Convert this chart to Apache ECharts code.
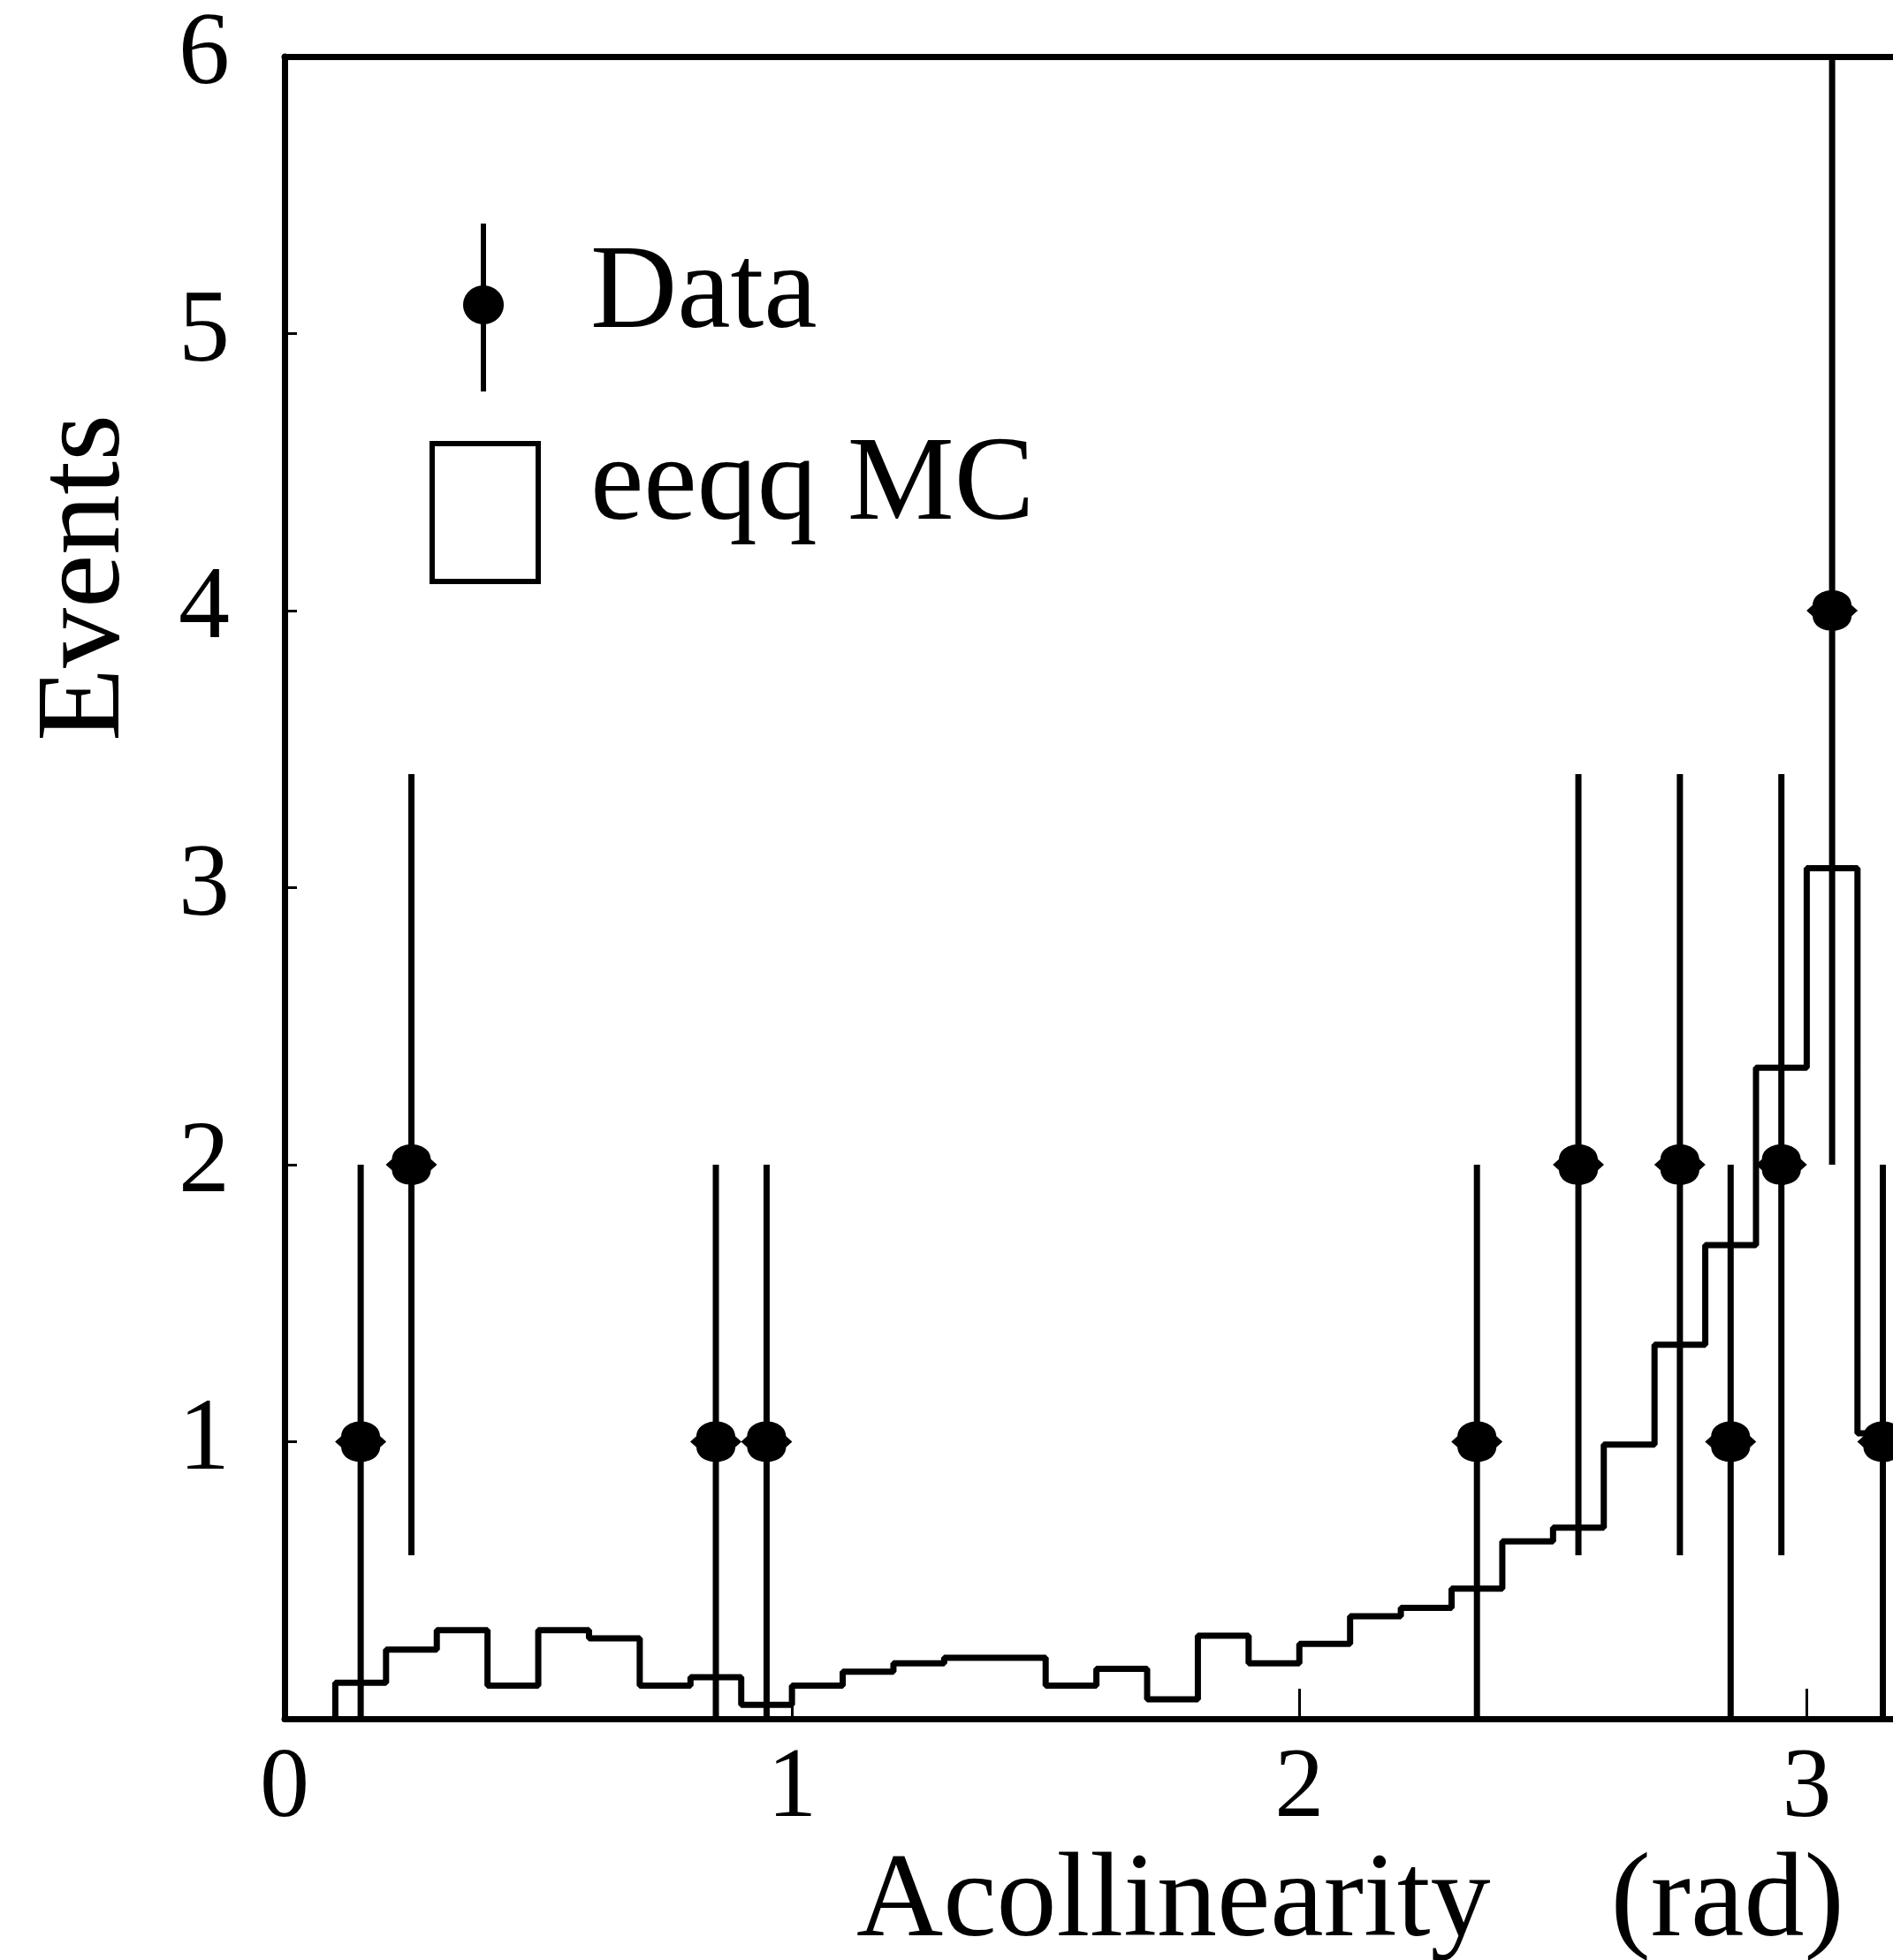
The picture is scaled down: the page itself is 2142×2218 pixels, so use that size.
<!DOCTYPE html>
<html>
<head>
<meta charset="utf-8">
<script src="https://cdn.jsdelivr.net/npm/echarts@6/dist/echarts.min.js"></script>
<style>
  html, body { margin: 0; padding: 0; background: #fff; }
  #chart { width: 2142px; height: 2218px; }
</style>
</head>
<body>
<div id="chart"></div>
<script>
// data points (bin centres) with their error bars
var dataX = [0.15, 0.25, 0.85, 0.95, 2.35, 2.55, 2.75, 2.85, 2.95, 3.05, 3.15];
var dataY = [1, 2, 1, 1, 1, 2, 2, 1, 2, 4, 1];
var errLow = [0, 0.59, 0, 0, 0, 0.59, 0.59, 0, 0.59, 2, 0];
var errHigh = [2, 3.41, 2, 2, 2, 3.41, 3.41, 2, 3.41, 6, 2];

// eeqq MC histogram: lower bin edges and contents
var mcEdges = [0.1, 0.2, 0.3, 0.4, 0.5, 0.6, 0.7, 0.8, 0.9, 1.0,
  1.1, 1.2, 1.3, 1.4, 1.5, 1.6, 1.7, 1.8, 1.9, 2.0,
  2.1, 2.2, 2.3, 2.4, 2.5, 2.6, 2.7, 2.8, 2.9, 3.0, 3.1];
var mcValues = [0.13, 0.25, 0.32, 0.12, 0.32, 0.29, 0.12, 0.15, 0.05, 0.12,
  0.17, 0.20, 0.22, 0.22, 0.12, 0.18, 0.07, 0.30, 0.20, 0.27,
  0.37, 0.40, 0.47, 0.64, 0.69, 0.99, 1.35, 1.71, 2.35, 3.07, 1.03];
var mcLastEdge = 3.2;

var xTicks = [0, 1, 2, 3];
var yTicks = [0, 1, 2, 3, 4, 5, 6];
var xMax = 3.17; // the figure is cut at the right

var font = "Liberation Serif";
var markerPath = "path://M0,40 L12,32 C14,4 86,4 88,32 L100,40 L88,48 C86,76 14,76 12,48 Z";

var chart = echarts.init(document.getElementById("chart"));

var stepData = [[mcEdges[0], 0]];
for (var i = 0; i < mcEdges.length; i++) {
  stepData.push([mcEdges[i], mcValues[i]]);
}
stepData.push([mcLastEdge, mcValues[mcValues.length - 1]]);

var pts = [];
var bars = [];
for (var j = 0; j < dataX.length; j++) {
  pts.push([dataX[j], dataY[j]]);
  bars.push([dataX[j], errLow[j], errHigh[j]]);
}

function label(text, x, y, extra) {
  var el = {
    type: "text",
    x: x,
    y: y,
    style: {
      text: text,
      fill: "#000",
      fontFamily: font,
      fontSize: 136,
      align: "left",
      verticalAlign: "middle",
      textAlign: "left",
      textVerticalAlign: "middle"
    }
  };
  return Object.assign(el, extra || {});
}

var option = {
  backgroundColor: "#fff",
  animation: false,
  grid: {
    left: 322,
    top: 64,
    right: 0,
    bottom: 273
  },
  xAxis: [
    {
      type: "value",
      position: "bottom",
      min: xTicks[0],
      max: xMax,
      interval: 1,
      splitLine: { show: false },
      axisLine: { show: true, lineStyle: { color: "#000", width: 7 } },
      axisTick: { show: true, inside: true, length: 34, lineStyle: { color: "#000", width: 3 } },
      axisLabel: {
        showMaxLabel: false,
        margin: 25,
        color: "#000",
        fontFamily: font,
        fontSize: 112,
        formatter: function (v) {
          return xTicks.indexOf(v) >= 0 ? String(v) : "";
        }
      }
    },
    {
      // top frame line
      type: "value",
      position: "top",
      min: xTicks[0],
      max: xMax,
      interval: 1,
      splitLine: { show: false },
      axisLine: { show: true, lineStyle: { color: "#000", width: 7 } },
      axisTick: { show: false },
      axisLabel: { show: false }
    }
  ],
  yAxis: {
    type: "value",
    min: yTicks[0],
    max: yTicks[yTicks.length - 1],
    interval: 1,
    splitLine: { show: false },
    axisLine: { show: true, lineStyle: { color: "#000", width: 7 } },
    axisTick: { show: true, inside: true, length: 14, lineStyle: { color: "#000", width: 3 } },
    axisLabel: {
      showMinLabel: false,
      margin: 62,
      color: "#000",
      fontFamily: font,
      fontSize: 116
    }
  },
  graphic: [
    {
      type: "text",
      x: 98,
      y: 654,
      rotation: Math.PI / 2,
      style: {
        text: "Events",
        fill: "#000",
        fontFamily: font,
        fontSize: 136,
        align: "center",
        verticalAlign: "middle",
        textAlign: "center",
        textVerticalAlign: "middle"
      }
    },
    label("Acollinearity    (rad)", 969, 2154),
    // legend
    {
      type: "line",
      shape: { x1: 547, y1: 253, x2: 547, y2: 443 },
      style: { stroke: "#000", lineWidth: 6 }
    },
    {
      type: "ellipse",
      shape: { cx: 547, cy: 345, rx: 23, ry: 22 },
      style: { fill: "#000" }
    },
    label("Data", 668, 334),
    {
      type: "rect",
      shape: { x: 489, y: 502, width: 120, height: 156 },
      style: { fill: "none", stroke: "#000", lineWidth: 6 }
    },
    label("eeqq MC", 668, 551)
  ],
  series: [
    {
      name: "eeqq MC",
      type: "line",
      step: "end",
      symbol: "none",
      data: stepData,
      lineStyle: { color: "#000", width: 7 },
      z: 2
    },
    {
      name: "Data errors",
      type: "custom",
      data: bars,
      renderItem: function (params, api) {
        var lo = api.coord([api.value(0), api.value(1)]);
        var hi = api.coord([api.value(0), api.value(2)]);
        return {
          type: "line",
          shape: { x1: lo[0], y1: lo[1], x2: hi[0], y2: hi[1] },
          style: { stroke: "#000", lineWidth: 7 }
        };
      },
      z: 3
    },
    {
      name: "Data",
      type: "scatter",
      symbol: markerPath,
      symbolSize: [58, 46],
      data: pts,
      itemStyle: { color: "#000", opacity: 1 },
      z: 4
    }
  ]
};

chart.setOption(option);
</script>
</body>
</html>
